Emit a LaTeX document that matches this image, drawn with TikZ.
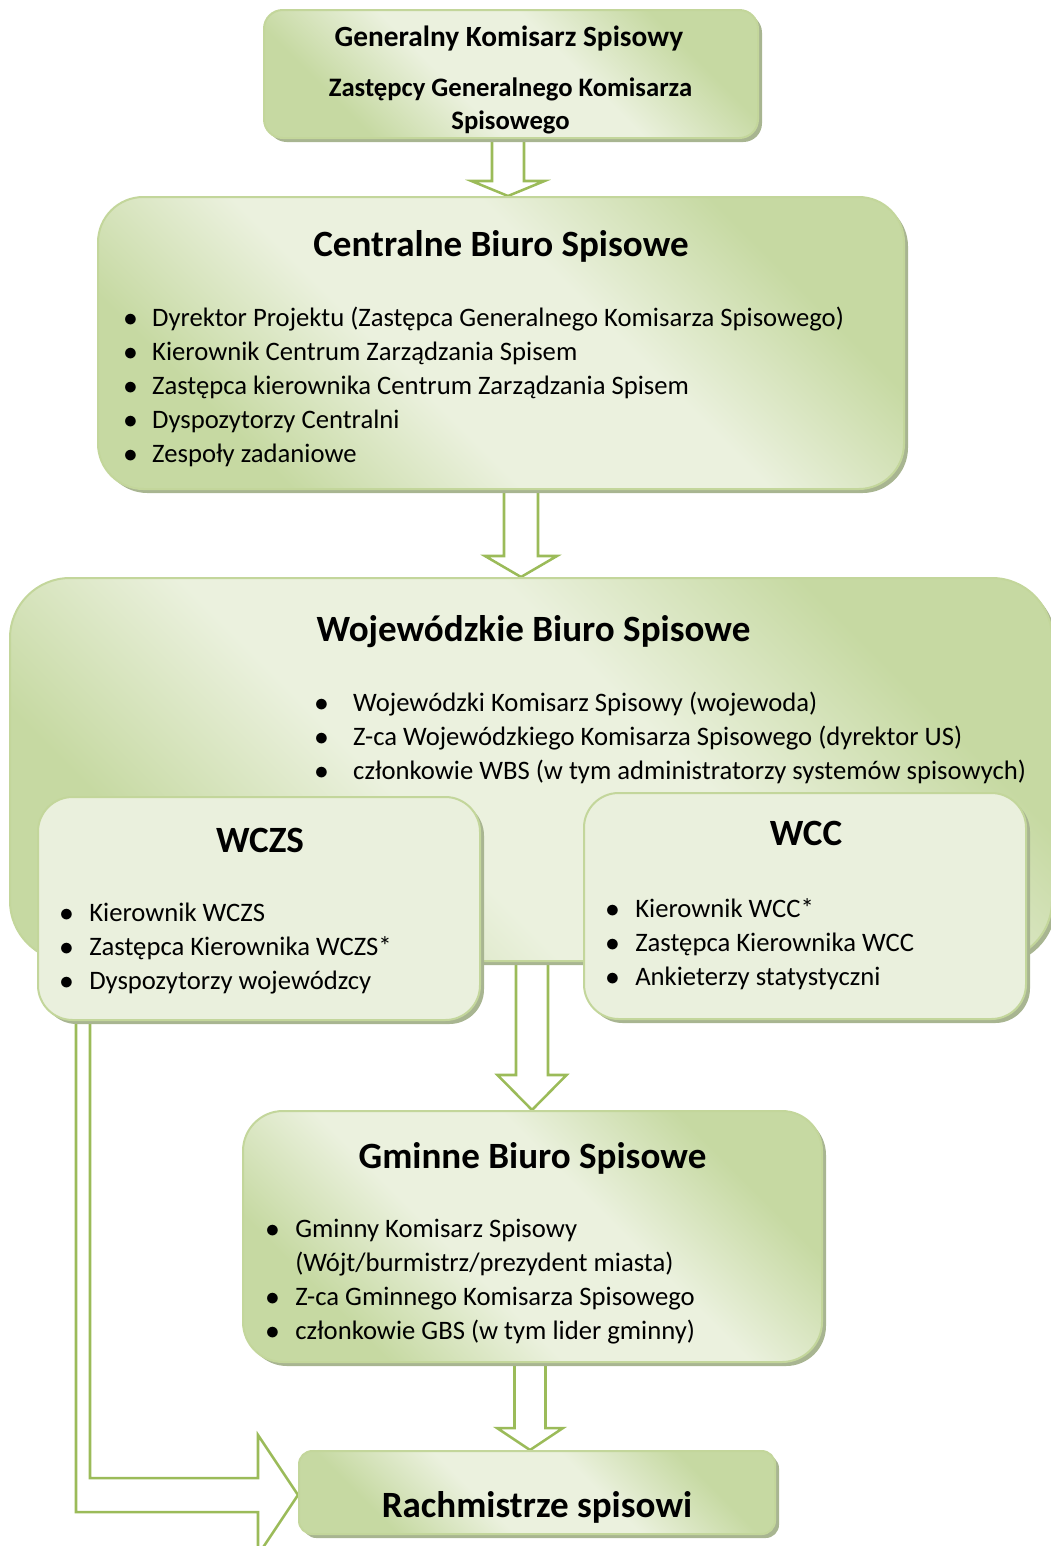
\documentclass[tikz,border=0pt]{standalone}
\usepackage{fontspec}
\setmainfont{Carlito}
\usetikzlibrary{calc,shadows,backgrounds}
\definecolor{boxLight}{HTML}{EBF1DE}
\definecolor{boxGreen}{HTML}{C6D9A2}
\definecolor{boxLine}{HTML}{C3D69B}
\definecolor{innerFill}{HTML}{EAF0DD}
\definecolor{arrowGreen}{HTML}{9BBB59}
\definecolor{shadowGreen}{HTML}{A8B591}

\pgfdeclareverticalshading{panelshade}{100bp}{color(0bp)=(boxGreen); color(27bp)=(boxGreen);
  color(42bp)=(boxLight); color(58bp)=(boxLight); color(73bp)=(boxGreen); color(100bp)=(boxGreen)}

\newcommand{\pxu}{0.75pt}
\newcommand{\bul}[1]{\makebox[#1][l]{$\bullet$}}
% hollow block arrow from a point straight down to the top of a node
\newcommand{\blockarrow}[5]{%
  \draw[arrowline] let \p1=(#1), \p2=(#2.north) in
    (\x1-#3*\pxu,\y1) -- (\x1-#3*\pxu,\y2+#5*\pxu) -- (\x1-#4*\pxu,\y2+#5*\pxu)
    -- (\x1,\y2) -- (\x1+#4*\pxu,\y2+#5*\pxu) -- (\x1+#3*\pxu,\y2+#5*\pxu)
    -- (\x1+#3*\pxu,\y1);}

\tikzset{
  panel/.style={draw=boxLine, line width=1.5pt, shading=panelshade, shading angle=-45,
    drop shadow={shadow xshift=3pt, shadow yshift=-3pt, fill=shadowGreen, opacity=1}},
  subpanel/.style={draw=boxLine, line width=1.5pt, fill=innerFill,
    drop shadow={shadow xshift=3pt, shadow yshift=-3pt, fill=shadowGreen, opacity=1}},
  title/.style={font=\fontsize{27.8}{33}\selectfont\bfseries, anchor=base, inner sep=0pt},
  headtext/.style={font=\fontsize{20}{24}\selectfont\bfseries, anchor=base, inner sep=0pt},
  items/.style={font=\fontsize{20}{25.5}\selectfont, anchor=north west, inner sep=0pt, align=left},
  arrowline/.style={draw=arrowGreen, line width=1.9pt}
}

\begin{document}
\begin{tikzpicture}[x=0.75pt,y=-0.75pt]
\useasboundingbox (0,0) rectangle (1050,1546);

% boxes
\node[panel, rounded corners=14pt, minimum width=494*\pxu, minimum height=128*\pxu] (gks) at (511,74) {};
\node[panel, rounded corners=34pt, minimum width=806*\pxu, minimum height=292*\pxu] (cbs) at (501,343) {};
\node[panel, rounded corners=45pt, minimum width=1042*\pxu, minimum height=383*\pxu] (wbs) at (531,769.5) {};
\node[subpanel, rounded corners=26pt, minimum width=442*\pxu, minimum height=223*\pxu] (wczs) at (259,908.5) {};
\node[subpanel, rounded corners=26pt, minimum width=442*\pxu, minimum height=226*\pxu] (wcc) at (805,906) {};
\node[panel, rounded corners=30pt, minimum width=579*\pxu, minimum height=251*\pxu] (gbs) at (532.5,1236.5) {};
\node[panel, rounded corners=10pt, minimum width=476*\pxu, minimum height=83*\pxu] (rach) at (537,1492.5) {};

% texts
\node[headtext, font=\fontsize{22}{26}\selectfont\bfseries] (gkshead) at (509,46) {Generalny Komisarz Spisowy};
\node[headtext] (gksdep) at (510.5,96) {Zastępcy Generalnego Komisarza};
\node[headtext] (gksdep2) at (510.5,129) {Spisowego};

\node[title] (cbstitle) at (501,256) {Centralne Biuro Spisowe};
\node[items] (cbslist) at (123.3,307) {\bul{21.5pt}Dyrektor Projektu (Zastępca Generalnego Komisarza Spisowego)\\
  \bul{21.5pt}Kierownik Centrum Zarządzania Spisem\\
  \bul{21.5pt}Zastępca kierownika Centrum Zarządzania Spisem\\
  \bul{21.5pt}Dyspozytorzy Centralni\\
  \bul{21.5pt}Zespoły zadaniowe};

\node[title] (wbstitle) at (533.5,641) {Wojewódzkie Biuro Spisowe};
\node[items] (wbslist) at (314.3,692) {\bul{29pt}Wojewódzki Komisarz Spisowy (wojewoda)\\
  \bul{29pt}Z-ca Wojewódzkiego Komisarza Spisowego (dyrektor US)\\
  \bul{29pt}członkowie WBS (w tym administratorzy systemów spisowych)};

\node[title] (wczstitle) at (260,852) {WCZS};
\node[items] (wczslist) at (59.3,903) {\bul{22.3pt}Kierownik WCZS\\
  \bul{22.3pt}Zastępca Kierownika WCZS*\\
  \bul{22.3pt}Dyspozytorzy wojewódzcy};

\node[title] (wcctitle) at (806,845) {WCC};
\node[items] (wcclist) at (605.3,898) {\bul{22.3pt}Kierownik WCC*\\
  \bul{22.3pt}Zastępca Kierownika WCC\\
  \bul{22.3pt}Ankieterzy statystyczni};

\node[title] (gbstitle) at (532.5,1168) {Gminne Biuro Spisowe};
\node[items] (gbslist) at (265.3,1219) {\bul{22.3pt}Gminny Komisarz Spisowy\\
  \hspace*{22.3pt}(Wójt/burmistrz/prezydent miasta)\\
  \bul{22.3pt}Z-ca Gminnego Komisarza Spisowego\\
  \bul{22.3pt}członkowie GBS (w tym lider gminny)};

\node[title] (rachtitle) at (537,1517) {Rachmistrze spisowi};

% arrows
\begin{scope}[on background layer]
  \blockarrow{[xshift=-3*\pxu]gks.south}{cbs}{16}{36.5}{15}
  \blockarrow{[xshift=20*\pxu]cbs.south}{wbs}{17}{36}{21}
  \blockarrow{[xshift=1*\pxu]wbs.south}{gbs}{16}{34.5}{35}
  \blockarrow{[xshift=-2.5*\pxu]gbs.south}{rach}{15.5}{33}{22}
  \draw[arrowline] let \p1=(wczs.south west), \p2=([yshift=-2.5*\pxu]rach.west) in
    (\x1+39*\pxu,\y1) |- (\x2-40*\pxu,\y2-17*\pxu) -- (\x2-40*\pxu,\y2-60*\pxu)
    -- (\p2) -- (\x2-40*\pxu,\y2+60*\pxu) -- (\x2-40*\pxu,\y2+17*\pxu)
    -| (\x1+53*\pxu,\y1);
\end{scope}
\end{tikzpicture}
\end{document}
